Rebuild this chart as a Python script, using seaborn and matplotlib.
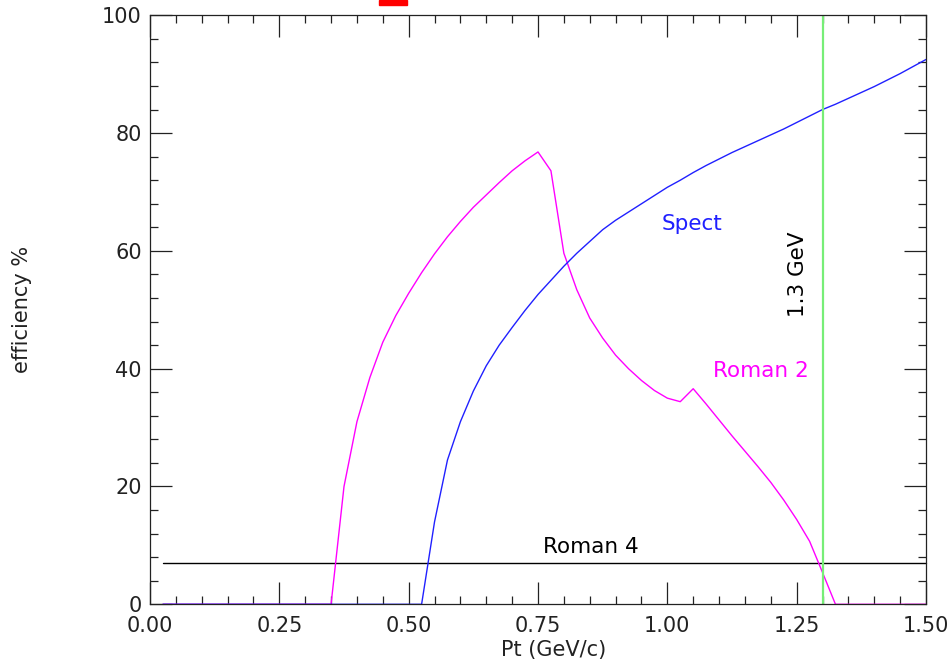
import numpy as np
import pandas as pd
import matplotlib
matplotlib.use("Agg")
import matplotlib.pyplot as plt
import seaborn as sns
from matplotlib.ticker import MultipleLocator
from matplotlib.patches import Rectangle

# ---- data ----
pt = [0.025, 0.050, 0.075, 0.100, 0.125, 0.150, 0.175, 0.200, 0.225, 0.250,
      0.275, 0.300, 0.325, 0.350, 0.375, 0.400, 0.425, 0.450, 0.475, 0.500,
      0.525, 0.550, 0.575, 0.600, 0.625, 0.650, 0.675, 0.700, 0.725, 0.750,
      0.775, 0.800, 0.825, 0.850, 0.875, 0.900, 0.925, 0.950, 0.975, 1.000,
      1.025, 1.050, 1.075, 1.100, 1.125, 1.150, 1.175, 1.200, 1.225, 1.250,
      1.275, 1.300, 1.325, 1.350, 1.375, 1.400, 1.425, 1.450, 1.475, 1.500]

roman2 = [0, 0, 0, 0, 0, 0, 0, 0, 0, 0,
          0, 0, 0, 0, 20.0, 31.0, 38.5, 44.5, 49.0, 52.8,
          56.3, 59.5, 62.4, 65.0, 67.4, 69.5, 71.6, 73.6, 75.3, 76.8,
          73.6, 59.6, 53.4, 48.6, 45.2, 42.3, 40.0, 38.0, 36.3, 35.0,
          34.4, 36.6, 34.0, 31.3, 28.6, 26.0, 23.4, 20.7, 17.7, 14.4,
          10.7, 5.4, 0, 0, 0, 0, 0, 0, 0, 0]

spect = [0, 0, 0, 0, 0, 0, 0, 0, 0, 0,
         0, 0, 0, 0, 0, 0, 0, 0, 0, 0,
         0, 14.0, 24.5, 31.0, 36.2, 40.5, 44.0, 47.0, 49.9, 52.6,
         55.0, 57.4, 59.6, 61.6, 63.6, 65.2, 66.6, 68.0, 69.4, 70.8,
         72.0, 73.3, 74.5, 75.6, 76.7, 77.7, 78.7, 79.7, 80.7, 81.8,
         82.9, 84.0, 84.9, 85.9, 86.9, 87.9, 89.0, 90.1, 91.3, 92.5]

roman4 = [7.0] * len(pt)

cut_pt = 1.3

labels = ["Spect", "Roman 2", "Roman 4", "1.3 GeV"]
x_ticks = [0.00, 0.25, 0.50, 0.75, 1.00, 1.25, 1.50]
y_ticks = [0, 20, 40, 60, 80, 100]

# ---- plotting ----
sns.set_theme(style="ticks")
plt.rcParams["font.family"] = ["DejaVu Sans"]

fig = plt.figure(figsize=(9.53, 6.66), dpi=100)
ax = fig.add_axes([150 / 953, 1 - 604.3 / 666, 776 / 953, 589 / 666])

df = pd.DataFrame({"pt": pt, "roman2": roman2, "spect": spect, "roman4": roman4})

sns.lineplot(data=df, x="pt", y="roman4", ax=ax, color="black", lw=1.0, clip_on=False)
sns.lineplot(data=df, x="pt", y="roman2", ax=ax, color="#ff00ff", lw=1.0, clip_on=False)
sns.lineplot(data=df, x="pt", y="spect", ax=ax, color="#2020ff", lw=1.0, clip_on=False)
ax.axvline(cut_pt, color="#77ee77", lw=1.6)

ax.set_xlim(0, 1.5)
ax.set_ylim(0, 100)
ax.set_xticks(x_ticks)
ax.set_xticklabels([f"{v:.2f}" for v in x_ticks])
ax.set_yticks(y_ticks)
ax.set_yticklabels([str(v) for v in y_ticks])
ax.xaxis.set_minor_locator(MultipleLocator(0.05))
ax.yaxis.set_minor_locator(MultipleLocator(4))

ax.tick_params(which="both", direction="in", top=True, right=True,
               color="#222222", width=0.9)
ax.tick_params(which="major", length=16, labelsize=15, labelcolor="#222222")
ax.tick_params(axis="x", which="major", pad=8.5)
ax.tick_params(axis="y", which="major", pad=6)
ax.tick_params(which="minor", length=5.5)

for s in ax.spines.values():
    s.set_linewidth(0.9)
    s.set_color("#222222")

ax.set_xlabel("Pt (GeV/c)", fontsize=15, color="#222222")
ax.set_ylabel("efficiency %", fontsize=15, color="#222222")
ax.xaxis.set_label_coords(0.52, -0.061)
ax.yaxis.set_label_coords(-0.152, 0.5)

ax.text(0.989, 63.6, labels[0], color="#2020ff", fontsize=15.5, ha="left", va="baseline")
ax.text(1.089, 38.6, labels[1], color="#ff00ff", fontsize=15.5, ha="left", va="baseline")
ax.text(0.759, 8.7, labels[2], color="black", fontsize=15.5, ha="left", va="baseline")
ax.text(1.2517, 56.0, labels[3], color="black", fontsize=15.5, ha="center", va="center",
        rotation=90)

fig.patches.append(Rectangle((379 / 953, 1 - 4.5 / 666), 28 / 953, 4.5 / 666,
                             transform=fig.transFigure, color="red", zorder=5))

fig.savefig("out.png", dpi=100)
